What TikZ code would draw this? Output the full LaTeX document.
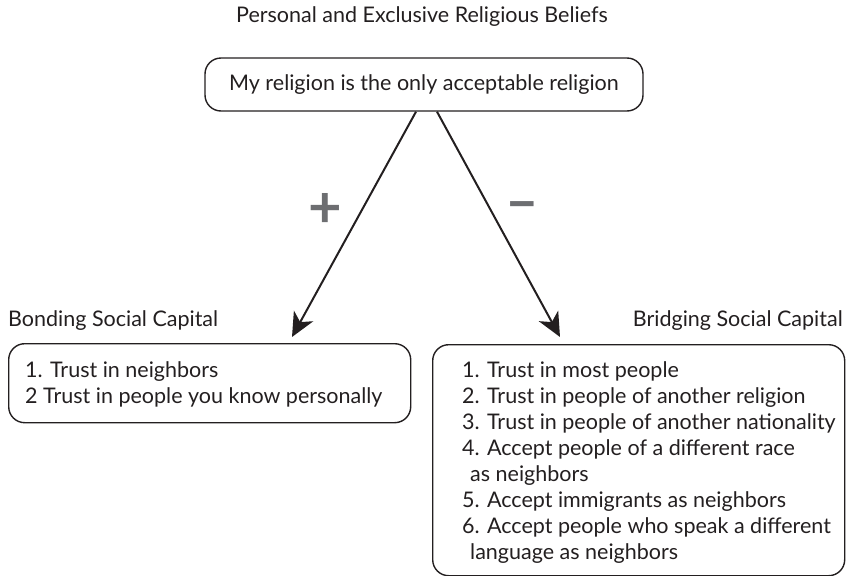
\documentclass[tikz,border=0pt]{standalone}
\usepackage{fontspec}
\setmainfont{Lato}
\usetikzlibrary{arrows.meta,calc}
\definecolor{ink}{HTML}{231F20}
\definecolor{signgray}{HTML}{6D6E71}
\begin{document}
\begin{tikzpicture}[x=1pt,y=-1pt,
  every node/.style={text=ink, font=\fontsize{21.5}{26}\selectfont},
  capbox/.style={draw=ink, line width=1.4pt, rounded corners=16pt, inner sep=0pt},
  heading/.style={inner sep=0pt},
  listing/.style={inner sep=0pt, align=left, anchor=west},
  sign/.style={text=signgray, font=\fontsize{58}{58}\bfseries, inner sep=0pt},
  link/.style={draw=ink, line width=2pt, -{Stealth[length=24pt,width=22pt,inset=7pt]}}]
  \useasboundingbox (0,0) rectangle (847,576);

  % belief at the top
  \node[heading] (beliefT) at (422,17) {Personal and Exclusive Religious Beliefs};
  \node[capbox, minimum width=438pt, minimum height=53pt] (belief) at (424,84.5)
    {My religion is the only acceptable religion};

  % bonding social capital
  \node[heading, anchor=west] (bondT) at (8,321) {Bonding Social Capital};
  \node[capbox, anchor=north west, minimum width=402pt, minimum height=79pt] (bond) at (8,343) {};
  \node[listing] (bondList) at ([xshift=17pt,yshift=-1pt]bond.west)
    {1. Trust in neighbors\\2 Trust in people you know personally};

  % bridging social capital
  \node[heading, anchor=east] (bridgeT) at (843,321) {Bridging Social Capital};
  \node[capbox, anchor=north west, minimum width=412pt, minimum height=231pt] (bridge) at (432,344) {};
  \node[listing] (bridgeList) at ([xshift=30pt,yshift=-2pt]bridge.west)
    {1. Trust in most people\\
     2. Trust in people of another religion\\
     3. Trust in people of another nationality\\
     4. Accept people of a different race\\
     \hspace*{8pt}as neighbors\\
     5. Accept immigrants as neighbors\\
     6. Accept people who speak a different\\
     \hspace*{8pt}language as neighbors};

  % arrow tips
  \coordinate (tipL) at (292,337);
  \coordinate (tipR) at (560,337);

  \draw[link] ([xshift=-8pt]belief.south) -- (tipL);
  \draw[link] ([xshift=13pt]belief.south) -- (tipR);

  \node[sign] (plus) at (325,210) {+};
  \node[sign] (minus) at (522,212) {\textendash};
\end{tikzpicture}
\end{document}
